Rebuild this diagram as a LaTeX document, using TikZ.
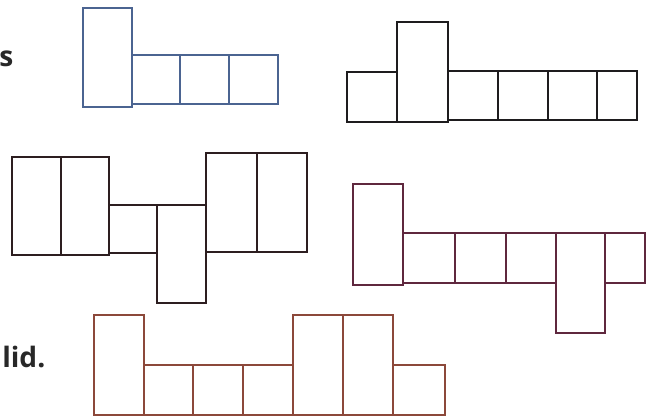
\documentclass[tikz,border=0pt]{standalone}
\usepackage{fontspec}
\setmainfont{Open Sans}
\usepackage{xcolor}
\usetikzlibrary{positioning}
\definecolor{netblue}{RGB}{75,100,145}
\definecolor{netblack}{RGB}{30,28,30}
\definecolor{netdark}{RGB}{45,30,32}
\definecolor{netplum}{RGB}{95,40,62}
\definecolor{netbrown}{RGB}{140,72,58}
\definecolor{lbl}{RGB}{40,40,40}

\begin{document}
\begin{tikzpicture}[x=0.02cm,y=-0.02cm,
    face/.style={line width=1.5pt,line join=miter},
    every node/.style={font=\fontsize{16}{19}\selectfont\bfseries\color{lbl}}]
  \useasboundingbox (0,0) rectangle (647,419);
  % Net 1: one tall face and a row of three squares
  \begin{scope}[face,draw=netblue]
    \draw (83,8) rectangle (132,107);
    \foreach \a/\b in {132/180,180/229,229/278}
      \draw (\a,55) rectangle (\b,104);
  \end{scope}
  % Net 2: square, tall face, then four squares
  \begin{scope}[face,draw=netblack]
    \draw (347,72) rectangle (397,122);
    \draw (397,22) rectangle (448,122);
    \foreach \a/\b in {448/498,498/548,548/597,597/637}
      \draw (\a,71) rectangle (\b,120);
  \end{scope}
  % Net 3: two tall, a square, one dropped tall, two tall
  \begin{scope}[face,draw=netdark]
    \foreach \a/\b in {12/61,61/109}
      \draw (\a,157) rectangle (\b,255);
    \draw (109,205) rectangle (157,253);
    \draw (157,205) rectangle (206,303);
    \foreach \a/\b in {206/257,257/307}
      \draw (\a,153) rectangle (\b,252);
  \end{scope}
  % Net 4: tall face, three squares, dropped tall face, square
  \begin{scope}[face,draw=netplum]
    \draw (353,184) rectangle (403,285);
    \foreach \a/\b in {403/455,455/506,506/556}
      \draw (\a,233) rectangle (\b,283);
    \draw (556,233) rectangle (605,333);
    \draw (605,233) rectangle (645,283);
  \end{scope}
  % Net 5: tall face, three squares, two tall, square
  \begin{scope}[face,draw=netbrown]
    \draw (94,315) rectangle (144,415);
    \foreach \a/\b in {144/193,193/243,243/293}
      \draw (\a,365) rectangle (\b,415);
    \foreach \a/\b in {293/343,343/393}
      \draw (\a,315) rectangle (\b,415);
    \draw (393,365) rectangle (445,415);
  \end{scope}
  % cut-off words at the left margin
  \node[anchor=base west,inner sep=0pt] (wordS) at (-1,67) {s};
  \node[anchor=base west,inner sep=0pt] (wordLid) at (2,367) {lid.};
\end{tikzpicture}
\end{document}
